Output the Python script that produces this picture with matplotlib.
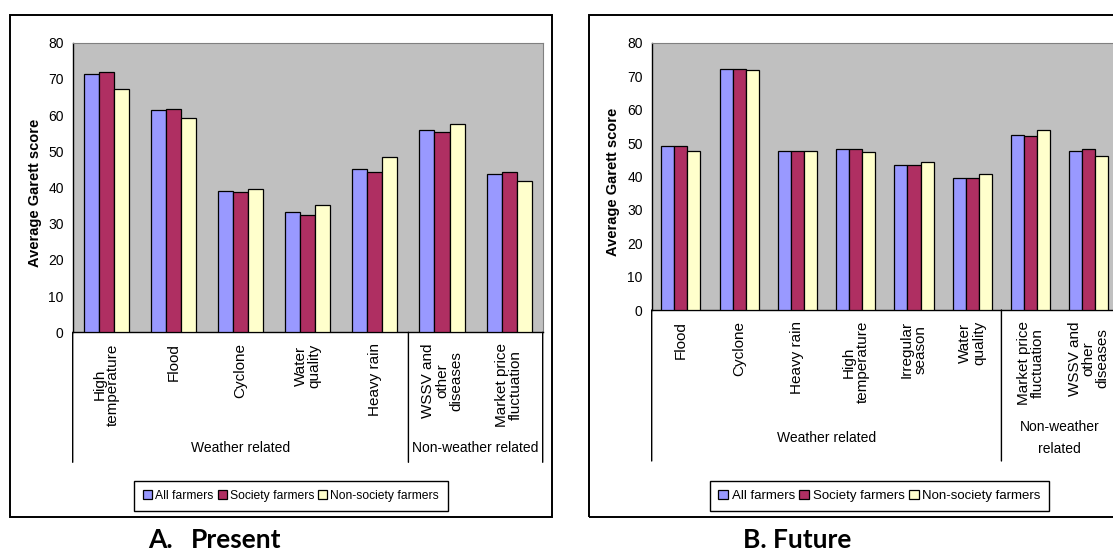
import matplotlib.pyplot as plt
import numpy as np
from matplotlib.patches import Rectangle
from matplotlib.transforms import offset_copy, blended_transform_factory

plt.rcParams['font.family'] = ['Liberation Sans', 'DejaVu Sans']

W, H = 1113, 552

# Present constraints
present_cats = ["High\ntemperature", "Flood", "Cyclone", "Water\nquality",
                "Heavy rain", "WSSV and\nother\ndiseases", "Market price\nfluctuation"]
present_all = [71.3, 61.3, 39.1, 33.1, 45.0, 55.8, 43.8]
present_society = [72.0, 61.7, 38.8, 32.5, 44.3, 55.3, 44.3]
present_nonsociety = [67.2, 59.3, 39.5, 35.2, 48.3, 57.6, 41.9]
present_n_weather = 5

# Future constraints
future_cats = ["Flood", "Cyclone", "Heavy rain", "High\ntemperature", "Irregular\nseason",
               "Water\nquality", "Market price\nfluctuation", "WSSV and\nother\ndiseases"]
future_all = [49.0, 72.2, 47.7, 48.1, 43.4, 39.5, 52.4, 47.7]
future_society = [49.0, 72.2, 47.7, 48.1, 43.4, 39.5, 52.0, 48.1]
future_nonsociety = [47.7, 71.8, 47.7, 47.3, 44.2, 40.8, 53.8, 46.0]
future_n_weather = 6

series_names = ["All farmers", "Society farmers", "Non-society farmers"]
colors = ["#9999FF", "#AF2F62", "#FFFFCC"]


def px_box(x0, y0, x1, y1):
    """pixel box (top-left origin) -> figure fraction rect"""
    return [x0 / W, 1 - y1 / H, (x1 - x0) / W, (y1 - y0) / H]


def draw_panel(ax, cats, series, n_weather, line_drop, group_drop, nonweather_label,
               legend_center, legend_size, legend_pad):
    n = len(cats)
    x = np.arange(n)
    bw = 0.224
    for k, (vals, name, c) in enumerate(zip(series, series_names, colors)):
        ax.bar(x + (k - 1) * bw, vals, bw, color=c, edgecolor='black',
               linewidth=0.9, label=name, zorder=3)

    ax.set_facecolor('#C0C0C0')
    ax.set_xlim(-0.5, n - 0.5)
    ax.set_ylim(0, 80)
    ax.set_yticks(range(0, 81, 10))
    ax.tick_params(axis='y', length=0, pad=6.5, labelsize=10)
    ax.set_xticks(x)
    ax.set_xticklabels(cats, rotation=90, ha='center', va='top',
                       multialignment='center', fontsize=11, linespacing=1.0)
    ax.tick_params(axis='x', length=0, pad=8)
    for s in ['top', 'right']:
        ax.spines[s].set_color('#808080')
    for s in ['left', 'bottom']:
        ax.spines[s].set_color('black')
        ax.spines[s].set_linewidth(1.0)

    ax.set_ylabel("Average Garett score", fontsize=10.5, fontweight='bold')

    # separators under the category axis
    tr = blended_transform_factory(ax.transData, ax.transAxes)
    fig = ax.figure
    down = offset_copy(tr, fig=fig, x=0, y=-line_drop, units='dots')
    for xs in [-0.5, n_weather - 0.5, n - 0.5]:
        ax.annotate("", xy=(xs, 0), xycoords=down, xytext=(xs, 0), textcoords=tr,
                    arrowprops=dict(arrowstyle='-', color='black', lw=1,
                                    shrinkA=0, shrinkB=0))

    glab = offset_copy(tr, fig=fig, x=0, y=-group_drop, units='dots')
    ax.text((n_weather - 1) / 2, 0, "Weather related", transform=glab,
            ha='center', va='center', fontsize=10)
    ax.text((n_weather + n - 1) / 2, 0, nonweather_label, transform=glab,
            ha='center', va='center', fontsize=10, linespacing=1.7)

    leg = ax.legend(loc='center', bbox_to_anchor=(legend_center[0] / W, 1 - legend_center[1] / H),
                    bbox_transform=fig.transFigure, ncol=3, frameon=True,
                    prop={'size': legend_size},
                    fancybox=False, edgecolor='black', framealpha=1, handlelength=0.75,
                    handleheight=0.75, handletextpad=0.25, columnspacing=0.35,
                    borderpad=legend_pad)
    leg.get_frame().set_linewidth(1.0)


fig = plt.figure(figsize=(W / 100, H / 100), dpi=100)

# outer frames
fig.add_artist(Rectangle((10 / W, 1 - 516.7 / H), 542 / W, 502 / H,
                         transform=fig.transFigure, fill=False, ec='black', lw=1.4))
fig.add_artist(Rectangle((588.7 / W, 1 - 516.7 / H), 600 / W, 502 / H,
                         transform=fig.transFigure, fill=False, ec='black', lw=1.4))

ax1 = fig.add_axes(px_box(72.7, 42.7, 542.7, 332.3))
draw_panel(ax1, present_cats, [present_all, present_society, present_nonsociety],
           present_n_weather, line_drop=130, group_drop=116,
           nonweather_label="Non-weather related", legend_center=(291, 495.7),
           legend_size=8.7, legend_pad=0.75)
ax1.yaxis.set_label_coords(-0.066, 0.48)

ax2 = fig.add_axes(px_box(651.7, 43, 1118, 310))
draw_panel(ax2, future_cats, [future_all, future_society, future_nonsociety],
           future_n_weather, line_drop=151, group_drop=128,
           nonweather_label="Non-weather\nrelated", legend_center=(879.5, 496),
           legend_size=9.5, legend_pad=0.65)
ax2.yaxis.set_label_coords(-0.068, 0.48)

title_font = ['Lato', 'DejaVu Sans']
fig.text(148 / W, 1 - 548 / H, "A.", fontsize=19, fontweight='bold',
         family=title_font, ha='left', va='baseline')
fig.text(191 / W, 1 - 548 / H, "Present", fontsize=19, fontweight='bold',
         family=title_font, ha='left', va='baseline')
fig.text(743 / W, 1 - 548 / H, "B. Future", fontsize=19, fontweight='bold',
         family=title_font, ha='left', va='baseline')

fig.savefig("out.png", dpi=100)
